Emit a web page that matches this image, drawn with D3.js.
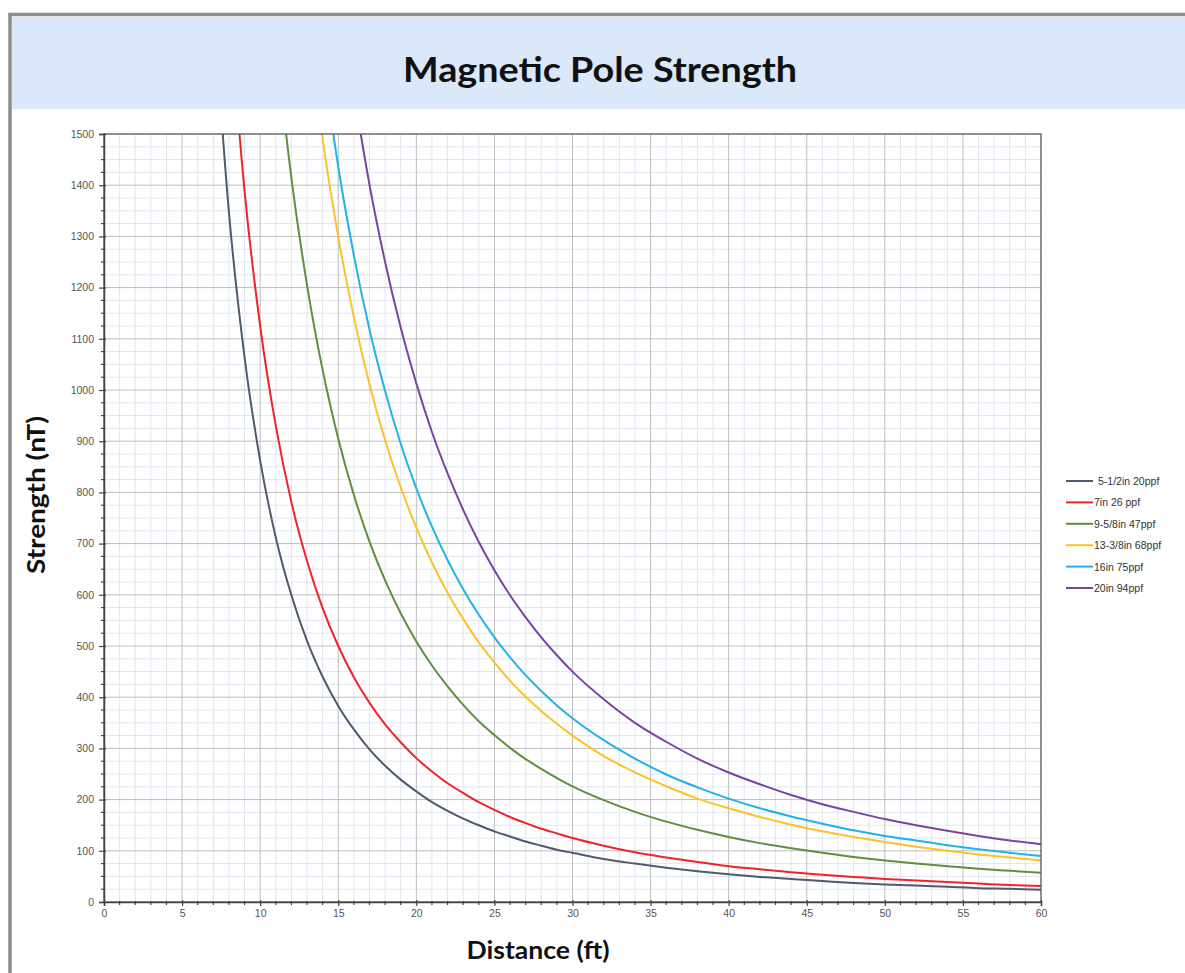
<!DOCTYPE html>
<html><head><meta charset="utf-8">
<script src="https://cdn.jsdelivr.net/npm/d3@7/dist/d3.min.js"></script>
<style>
html,body{margin:0;padding:0;background:#fff;}
svg{display:block;}
</style></head>
<body>
<svg id="chart" width="1185" height="973"></svg>
<script>
const distances = [7,8,9,10,11,12,13,14,15,16,17,18,19,20,21,22,23,24,25,26,27,28,29,30,32,34,36,38,40,42,44,46,48,50,52,54,56,58,60];
const seriesNames = ["5-1/2in 20ppf","7in 26 ppf","9-5/8in 47ppf","13-3/8in 68ppf","16in 75ppf","20in 94ppf"];
const seriesColors = ["#4e5a6e","#f0232a","#5f8f3e","#fdc12a","#21b2e6","#7a43a3"];
const casing55 = [1759,1347,1064,862,712,599,510,440,383,337,298,266,239,216,195,178,163,150,138,128,118,110,102,96,84,75,67,60,54,49,45,41,37,34,32,30,27,26,24];
const casing7  = [null,1758,1389,1125,930,781,666,574,500,439,389,347,312,281,255,232,213,195,180,166,154,143,134,125,110,97,87,78,70,64,58,53,49,45,42,39,36,33,31];
const casing958 = [null,null,null,null,1683,1414,1205,1039,905,795,704,628,564,509,462,421,385,353,326,301,279,260,242,226,199,176,157,141,127,115,105,96,88,81,75,70,65,61,57];
const casing1338 = [null,null,null,null,null,null,1730,1491,1299,1142,1011,902,810,731,663,604,553,507,468,432,401,373,348,325,285,253,226,202,183,166,151,138,127,117,108,100,93,87,81];
const casing16 = [null,null,null,null,null,null,null,1649,1436,1263,1118,998,895,808,733,668,611,561,517,478,443,412,384,359,316,280,249,224,202,183,167,153,140,129,120,111,103,96,90];
const casing20 = [null,null,null,null,null,null,null,null,null,1582,1401,1250,1122,1013,918,837,766,703,648,599,556,517,482,450,396,350,313,280,253,230,209,191,176,162,150,139,129,120,113];
const seriesValues = [casing55,casing7,casing958,casing1338,casing16,casing20];
const xTicks = [0,5,10,15,20,25,30,35,40,45,50,55,60];
const yTicks = [0,100,200,300,400,500,600,700,800,900,1000,1100,1200,1300,1400,1500];

const svg = d3.select("#chart");
// outer frame
svg.append("rect").attr("x",10).attr("y",14.5).attr("width",1190).attr("height",980)
  .attr("fill","#fff").attr("stroke","#8c8c8c").attr("stroke-width",3.5);
svg.append("rect").attr("x",12).attr("y",17).attr("width",1173).attr("height",92).attr("fill","#dae8f9");
svg.append("text").attr("x",600).attr("y",82).attr("text-anchor","middle")
  .attr("font-family","Lato, 'Open Sans', sans-serif").attr("font-weight","bold").attr("font-size",35)
  .attr("textLength",394).attr("lengthAdjust","spacingAndGlyphs")
  .attr("fill","#111").text("Magnetic Pole Strength");

const L=104, R=1041, T=134, B=902;
const x = d3.scaleLinear().domain([0,60]).range([L,R]);
const y = d3.scaleLinear().domain([0,1500]).range([B,T]);

const grid = svg.append("g");
// minor grid
d3.range(1,60).filter(v=>v%5!==0).forEach(v=>{
  grid.append("line").attr("x1",x(v)).attr("x2",x(v)).attr("y1",T).attr("y2",B).attr("stroke","#dfe5f1").attr("stroke-width",1);
});
d3.range(25,1500,25).filter(v=>v%100!==0).forEach(v=>{
  grid.append("line").attr("x1",L).attr("x2",R).attr("y1",y(v)).attr("y2",y(v)).attr("stroke","#dfe5f1").attr("stroke-width",1);
});
xTicks.slice(1,-1).forEach(v=>{
  grid.append("line").attr("x1",x(v)).attr("x2",x(v)).attr("y1",T).attr("y2",B).attr("stroke","#bdbdbd").attr("stroke-width",1);
});
yTicks.slice(1,-1).forEach(v=>{
  grid.append("line").attr("x1",L).attr("x2",R).attr("y1",y(v)).attr("y2",y(v)).attr("stroke","#bdbdbd").attr("stroke-width",1);
});

// curves
const defs = svg.append("defs");
defs.append("clipPath").attr("id","plotclip").append("rect").attr("x",L).attr("y",T).attr("width",R-L).attr("height",B-T);
const line = d3.line().defined(d=>d[1]!==null).x(d=>x(d[0])).y(d=>y(d[1])).curve(d3.curveMonotoneX);
const curves = svg.append("g").attr("clip-path","url(#plotclip)");
seriesValues.forEach((vals,i)=>{
  curves.append("path").datum(distances.map((d,j)=>[d,vals[j]]))
    .attr("d",line).attr("fill","none").attr("stroke",seriesColors[i]).attr("stroke-width",2);
});

// frame
svg.append("rect").attr("x",L).attr("y",T).attr("width",R-L).attr("height",B-T)
  .attr("fill","none").attr("stroke","#555").attr("stroke-width",1.3);

// axes
const xAxis = d3.axisBottom(x).tickValues(xTicks).tickSize(4).tickPadding(4).tickFormat(d3.format("d"));
const gx = svg.append("g").attr("transform",`translate(0,${B})`).call(xAxis);
const yAxis = d3.axisLeft(y).tickValues(yTicks).tickSize(5).tickPadding(5).tickFormat(d3.format("d"));
const gy = svg.append("g").attr("transform",`translate(${L},0)`).call(yAxis);
[gx,gy].forEach(g=>{
  g.select(".domain").attr("stroke","#444").attr("stroke-width",1.5);
  g.selectAll(".tick line").attr("stroke","#444").attr("stroke-width",1.2);
  g.selectAll(".tick text").attr("font-family","Arial, 'Liberation Sans', sans-serif").attr("font-size",10.5).attr("fill","#555");
});
gx.selectAll(".tick line").attr("y1",-2);
gy.selectAll(".tick line").attr("x1",2);
// minor ticks
const minorX = d3.range(0,61).filter(v=>v%5!==0);
svg.append("g").selectAll("line").data(minorX).join("line")
  .attr("x1",d=>x(d)).attr("x2",d=>x(d)).attr("y1",B-1).attr("y2",B+3).attr("stroke","#444").attr("stroke-width",1.2);
const minorY = d3.range(0,1501,25).filter(v=>v%100!==0);
svg.append("g").selectAll("line").data(minorY).join("line")
  .attr("x1",L-3).attr("x2",L+1).attr("y1",d=>y(d)).attr("y2",d=>y(d)).attr("stroke","#444").attr("stroke-width",1.2);

// axis titles
svg.append("text").attr("x",538).attr("y",959).attr("text-anchor","middle")
  .attr("font-family","Lato, 'Open Sans', sans-serif").attr("font-weight","bold").attr("font-size",24)
  .attr("textLength",143).attr("lengthAdjust","spacingAndGlyphs")
  .attr("fill","#111").text("Distance (ft)");
svg.append("text").attr("transform","translate(45,495) rotate(-90)").attr("text-anchor","middle")
  .attr("font-family","Lato, 'Open Sans', sans-serif").attr("font-weight","bold").attr("font-size",24)
  .attr("textLength",158).attr("lengthAdjust","spacingAndGlyphs")
  .attr("fill","#111").text("Strength (nT)");

// legend
const lg = svg.append("g");
seriesNames.forEach((n,i)=>{
  const yy = 481 + i*21.4;
  lg.append("line").attr("x1",1066).attr("x2",1093).attr("y1",yy).attr("y2",yy)
    .attr("stroke",seriesColors[i]).attr("stroke-width",2);
  lg.append("text").attr("x",i===0?1098:1094).attr("y",yy+4)
    .attr("font-family","Arial, 'Liberation Sans', sans-serif").attr("font-size",10.5).attr("fill","#333").text(n);
});
</script>
</body></html>
